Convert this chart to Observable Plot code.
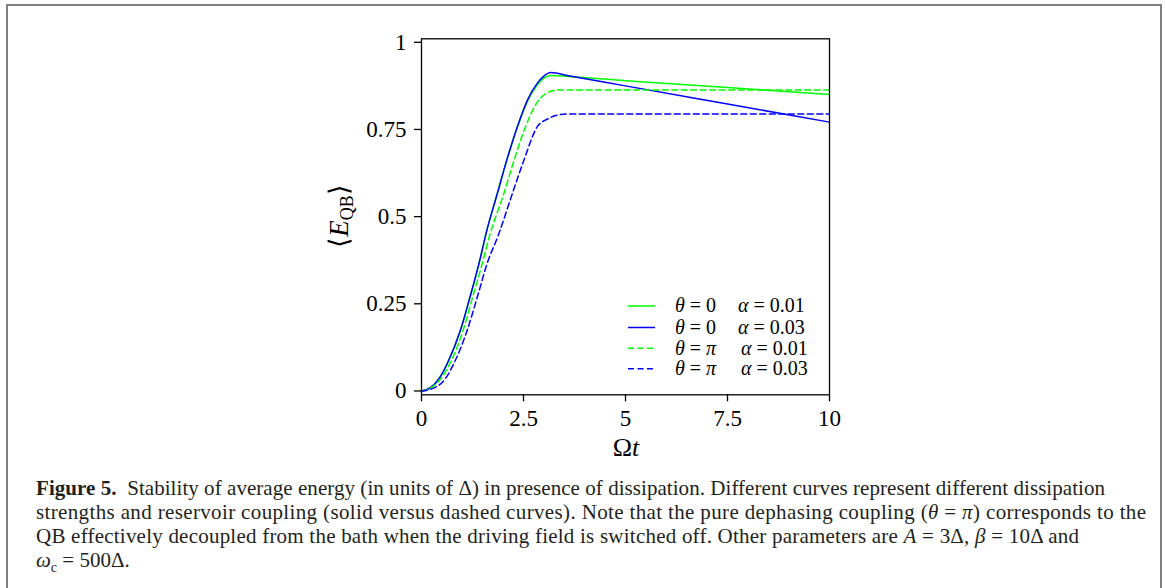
<!DOCTYPE html>
<html><head><meta charset="utf-8">
<script src="https://cdn.jsdelivr.net/npm/d3@7"></script>
<script src="https://cdn.jsdelivr.net/npm/@observablehq/plot@0.6"></script>
<style>
body{margin:0;background:#fff;width:1165px;height:588px;overflow:hidden;position:relative;font-family:"Liberation Serif",serif;}
#border{position:absolute;left:6px;top:4px;width:1152px;height:700px;border:2px solid #808080;border-bottom:none;}
#chart{position:absolute;left:0;top:0;}
#chart svg text, #chart svg tspan{font-family:"Liberation Serif",serif;}
#caption{position:absolute;left:36px;top:476px;font-size:21px;line-height:24px;color:#231f20;white-space:nowrap;}
#caption div{height:24px;}
#caption div span.ln{display:inline-block;}
#caption i{font-style:italic;}
</style></head><body>
<div id="border"></div>
<div id="chart"></div>
<div id="caption">
<div><span class="ln" data-w="1069"><b>Figure 5.</b>&nbsp;&nbsp;Stability of average energy (in units of Δ) in presence of dissipation. Different curves represent different dissipation</span></div>
<div><span class="ln" data-w="1110">strengths and reservoir coupling (solid versus dashed curves). Note that the pure dephasing coupling (<i>θ</i> = <i>π</i>) corresponds to the</span></div>
<div><span class="ln" data-w="1043">QB effectively decoupled from the bath when the driving field is switched off. Other parameters are <i>A</i> = 3Δ, <i>β</i> = 10Δ and</span></div>
<div><span class="ln"><i>ω</i><sub style="font-size:14px;line-height:0">c</sub> = 500Δ.</span></div>
</div>
<script>
// ---- data ----
const greenSolidT = [0, 0.2, 0.43, 0.63, 0.96, 1.19, 1.41, 1.6, 1.86, 2.09, 2.35, 2.6, 2.84, 3.0, 3.15, 3.6, 5, 7.5, 10];
const greenSolidE = [0, 0.008, 0.035, 0.078, 0.176, 0.27, 0.366, 0.46, 0.567, 0.662, 0.757, 0.832, 0.878, 0.897, 0.905, 0.902, 0.890, 0.870, 0.850];
const blueSolidT  = [0, 0.2, 0.43, 0.63, 0.96, 1.19, 1.41, 1.6, 1.86, 2.09, 2.35, 2.6, 2.84, 3.0, 3.17, 3.6, 5, 7.5, 10];
const blueSolidE  = [0, 0.008, 0.035, 0.078, 0.176, 0.27, 0.366, 0.46, 0.567, 0.662, 0.758, 0.835, 0.883, 0.903, 0.913, 0.904, 0.875, 0.823, 0.771];
const greenDashT  = [0, 0.2, 0.45, 0.68, 1.02, 1.25, 1.49, 1.67, 2.02, 2.27, 2.55, 2.88, 3.05, 3.25, 3.5, 10];
const greenDashE  = [0, 0.0065, 0.032, 0.075, 0.174, 0.268, 0.366, 0.446, 0.567, 0.662, 0.758, 0.835, 0.853, 0.862, 0.8635, 0.8635];
const blueDashT   = [0, 0.25, 0.59, 0.79, 1.12, 1.37, 1.61, 1.88, 2.23, 2.51, 2.84, 3.09, 3.33, 3.6, 10];
const blueDashE   = [0, 0.006, 0.036, 0.078, 0.174, 0.27, 0.366, 0.446, 0.567, 0.662, 0.758, 0.78, 0.791, 0.7945, 0.7945];

const xTicks = [0, 2.5, 5, 7.5, 10];
const xTickLabels = ["0", "2.5", "5", "7.5", "10"];
const yTicks = [0, 0.25, 0.5, 0.75, 1];
const yTickLabels = ["0", "0.25", "0.5", "0.75", "1"];

const seriesLabels = [["θ = 0", "α = 0.01"], ["θ = 0", "α = 0.03"], ["θ = π", "α = 0.01"], ["θ = π", "α = 0.03"]];
const seriesColors = ["#00ff00", "#0000ff", "#00ff00", "#0000ff"];
const seriesDash = [null, null, "6,3.5", "6,3.5"];

const toRows = (T, E) => T.map((t, i) => ({t, E: E[i]}));
const series = [toRows(greenSolidT, greenSolidE), toRows(blueSolidT, blueSolidE), toRows(greenDashT, greenDashE), toRows(blueDashT, blueDashE)];

const W = 1165, H = 465;
const font = "'Liberation Serif', serif";
const chart = Plot.plot({
  width: W, height: H,
  marginLeft: 421, marginRight: 336, marginTop: 38.3, marginBottom: H - 394.3,
  style: {background: "transparent", fontFamily: font, color: "#000", overflow: "visible"},
  x: {domain: [0, 10]},
  y: {domain: [-0.011, 1.01]},
  marks: [
    ...series.map((d, i) => Plot.line(d, {x: "t", y: "E", stroke: seriesColors[i], strokeWidth: 1.5, strokeDasharray: seriesDash[i], curve: "monotone-x"})),
    Plot.frame({stroke: "#000", strokeWidth: 1.3}),
    Plot.axisX({ticks: xTicks, tickFormat: (d) => xTickLabels[xTicks.indexOf(d)], tickSize: 7, tickPadding: 8, fontSize: 23, label: null, strokeWidth: 1.3}),
    Plot.axisY({ticks: yTicks, tickFormat: (d) => yTickLabels[yTicks.indexOf(d)], tickSize: 7, tickPadding: 8, fontSize: 23, label: null, strokeWidth: 1.3})
  ]
});
document.getElementById("chart").appendChild(chart);

const svg = d3.select(chart);
// axis labels
const yl = svg.append("text").attr("transform", "translate(348,216) rotate(-90)")
  .attr("text-anchor", "middle").attr("font-size", 27).attr("fill", "#000");
yl.append("tspan").text("⟨");
yl.append("tspan").attr("font-style", "italic").text("E");
yl.append("tspan").attr("font-size", 18).attr("dy", 5).text("QB");
yl.append("tspan").attr("dy", -5).text("⟩");

const xl = svg.append("text").attr("x", 626).attr("y", 456).attr("text-anchor", "middle")
  .attr("font-size", 26).attr("fill", "#000");
xl.append("tspan").text("Ω");
xl.append("tspan").attr("font-style", "italic").text("t");

// legend
const rowsY = [306, 327.5, 348.3, 368.8];
const lg = svg.append("g").attr("font-size", 20).attr("fill", "#000").attr("text-anchor", "start");
seriesLabels.forEach((lab, i) => {
  lg.append("line").attr("x1", 628).attr("x2", 655).attr("y1", rowsY[i]).attr("y2", rowsY[i])
    .attr("stroke", seriesColors[i]).attr("stroke-width", 1.5).attr("stroke-dasharray", seriesDash[i]);
  const th = lab[0].split(" = "), al = lab[1].split(" = ");
  const t1 = lg.append("text").attr("x", 675).attr("y", rowsY[i]).attr("dy", "0.32em").attr("text-anchor", "start");
  t1.append("tspan").attr("font-style", "italic").text(th[0]);
  t1.append("tspan").text(" = ");
  t1.append("tspan").attr("font-style", th[1] === "π" ? "italic" : "normal").text(th[1]);
  const t2 = lg.append("text").attr("x", i < 2 ? 738 : 741).attr("y", rowsY[i]).attr("dy", "0.32em").attr("text-anchor", "start");
  t2.append("tspan").attr("font-style", "italic").text(al[0]);
  t2.append("tspan").text(" = " + al[1]);
});

// fit caption lines to the reference line widths
document.querySelectorAll("#caption span.ln[data-w]").forEach((el) => {
  const target = +el.dataset.w;
  const n = el.textContent.length;
  const w = el.getBoundingClientRect().width;
  if (n > 1) el.style.letterSpacing = ((target - w) / (n - 1)) + "px";
});
</script>
</body></html>
